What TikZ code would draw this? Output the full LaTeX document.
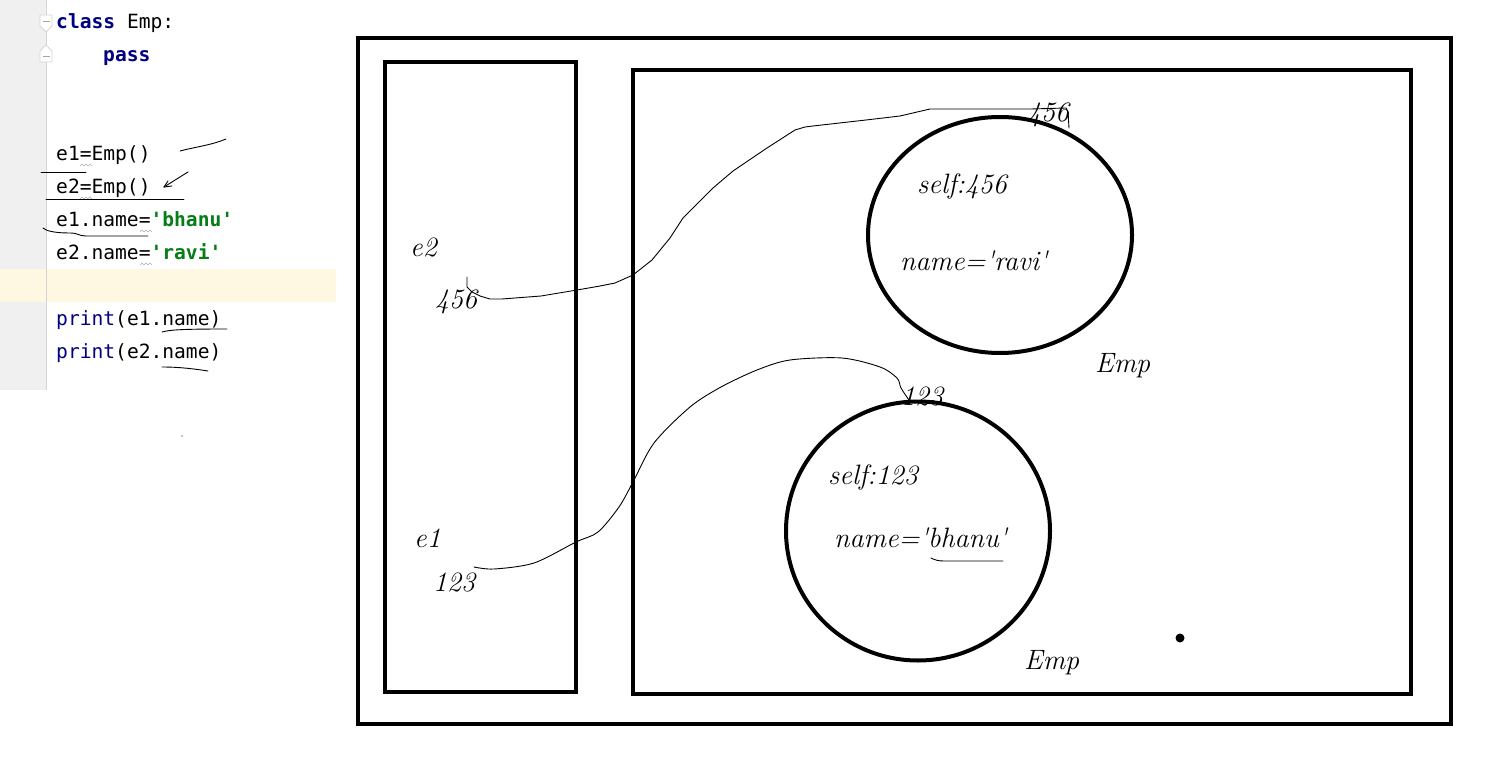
\documentclass[tikz,border=0pt]{standalone}
\usepackage{fontspec}
\setmonofont{DejaVu Sans Mono}
\usetikzlibrary{shapes.geometric}
\definecolor{gut}{HTML}{F0F0F0}
\definecolor{gutline}{HTML}{D5D5D5}
\definecolor{hl}{HTML}{FEF8E3}
\definecolor{kw}{HTML}{000080}
\definecolor{str}{HTML}{067D17}
\definecolor{squig}{HTML}{B0B0B0}
\tikzset{
  code/.style={anchor=base west, inner sep=0pt, font=\fontsize{19.6}{20}\selectfont\ttfamily},
  hand/.style={anchor=base west, inner sep=0pt, font=\fontsize{28}{30}\selectfont\itshape},
  frame/.style={line width=4pt},
  obj/.style={draw, ellipse, line width=4pt, inner sep=0pt},
  ink/.style={line width=0.9pt, line cap=round, line join=round},
  sq/.style={squig, line width=0.6pt}
}
\newcommand{\kwd}[1]{\textcolor{kw}{\bfseries #1}}
\newcommand{\strg}[1]{\textcolor{str}{\bfseries #1}}
\newcommand{\qq}{\textquotesingle}
\begin{document}
\begin{tikzpicture}[x=1pt,y=-1pt]
\fill[white] (0,0) rectangle (1497,759);
\useasboundingbox (0,0) rectangle (1497,759);
% editor gutter
\fill[gut] (0,0) rectangle (46,390);
\fill[hl] (0,269) rectangle (336,302);
\draw[gutline, line width=1pt] (46.5,0) -- (46.5,390);
% fold markers
\draw[gutline, fill=white, line width=0.8pt] (40,15) -- (52,15) -- (52,26) -- (46,32) -- (40,26) -- cycle;
\draw[gray!70, line width=0.8pt] (42.5,21) -- (49.5,21);
\draw[gutline, fill=white, line width=0.8pt] (40,62) -- (52,62) -- (52,51) -- (46,45) -- (40,51) -- cycle;
\draw[gray!70, line width=0.8pt] (42.5,56) -- (49.5,56);
% code
\node[code] (l1) at (56,29) {\kwd{class} Emp:};
\node[code] (l2) at (103,62) {\kwd{pass}};
\node[code] (l3) at (56,161) {e1=Emp()};
\node[code] (l4) at (56,194) {e2=Emp()};
\node[code] (l5) at (56,227) {e1.name=\strg{'bhanu'}};
\node[code] (l6) at (56,260) {e2.name=\strg{'ravi'}};
\node[code] (l7) at (56,326) {\textcolor{kw}{print}(e1.name)};
\node[code] (l8) at (56,359) {\textcolor{kw}{print}(e2.name)};
% squiggles under '='
\foreach \xx/\yy in {80/166, 80/199, 140/232, 140/265}{
  \draw[sq] (\xx,\yy) -- ++(2,-2) -- ++(2,2) -- ++(2,-2) -- ++(2,2) -- ++(2,-2) -- ++(2,2);
}
% hand marks on code
\draw[ink] (180,151) .. controls (195,147) and (212,145) .. (226,139);
\draw[ink] (41,172) -- (86,172);
\draw[ink] (188,172) -- (164,187);
\draw[ink] (164,187) -- (168,181);
\draw[ink] (164,187) -- (172,186);
\draw[ink] (46,199) -- (184,199);
\draw[ink] (43,228) .. controls (46,231) and (55,233) .. (70,233) .. controls (78,233) and (79,236) .. (86,236) -- (148,236);
\draw[ink] (162,332) .. controls (170,330) and (178,329) .. (227,329);
\draw[ink] (162,367) .. controls (180,367) and (195,369) .. (208,371);
\fill (182,436) circle (0.6);
% diagram frames
\draw[frame] (358,38) rectangle (1451,724);
\draw[frame] (385,62) rectangle (576,692);
\draw[frame] (633,70) rectangle (1411,694);
% objects
\node[obj, minimum width=264pt, minimum height=236pt] (o456) at (1000,235) {};
\node[obj, minimum width=264pt, minimum height=259pt] (o123) at (918,531) {};
% labels
\node[hand] (e2) at (410,257) {e2};
\node[hand] (r456) at (435,309) {456};
\node[hand] (e1) at (414,547) {e1};
\node[hand] (r123) at (433,591) {123};
\node[hand] (a456) at (1027,122) {456};
\node[hand] (s456) at (917,194) {self:456};
\node[hand] (n456) at (900,271) {name=\qq ravi\qq};
\node[hand] (emp1) at (1095,373) {Emp};
\node[hand] (a123) at (901,405) {123};
\node[hand] (s123) at (828,484) {self:123};
\node[hand] (n123) at (834,547) {name=\qq bhanu\qq};
\node[hand] (emp2) at (1024,669) {Emp};
% connectors
\coordinate (c2s) at (467,277);
\coordinate (c2e) at (1069,128);
\coordinate (c1s) at (474,567);
\coordinate (c1e) at (909,400);
\draw[ink] (c2s) -- (467,287) -- (472,292) -- (480,296) -- (490,299) -- (502,299) -- (541,296) -- (577,290) -- (600,286) -- (615,283) -- (633,275) -- (652,260) -- (670,238) -- (683,218) -- (700,201) -- (713,188) -- (733,171) -- (767,148) -- (795,130) -- (805,127) -- (813,126) -- (866,120) -- (900,116) -- (930,109) -- (1031,109) -- (1066,108) -- (1068,112) -- (c2e);
\draw[ink] plot[smooth, tension=0.5] coordinates {(c1s) (494,569) (534,563) (576,542) (598,532) (619,507) (633,482) (654,443) (690,407) (721,387) (757,370) (790,360) (842,358) (880,367) (897,378) (901,388) (c1e)};
\draw[ink] (931,558) .. controls (935,560) and (938,561) .. (944,561) -- (1003,561);
\node[fill, circle, minimum size=9pt, inner sep=0pt] (dot) at (1180,638) {};
\end{tikzpicture}
\end{document}
